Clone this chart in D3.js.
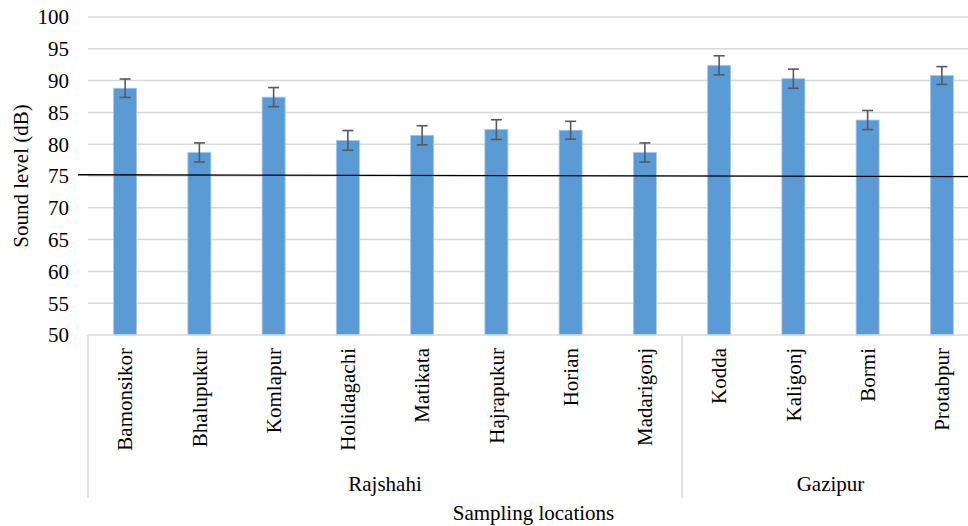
<!DOCTYPE html>
<html>
<head>
<meta charset="utf-8">
<script src="https://cdn.jsdelivr.net/npm/d3@7"></script>
<style>
  body { margin: 0; background: #fff; }
  text { font-family: "Times New Roman", "Liberation Serif", serif; fill: #000; }
</style>
</head>
<body>
<div id="chart"></div>
<script>
// chart data
const locations = ['Bamonsikor', 'Bhalupukur', 'Komlapur', 'Holidagachi', 'Matikata', 'Hajrapukur',
  'Horian', 'Madarigonj', 'Kodda', 'Kaligonj', 'Bormi', 'Protabpur'];
const districts = ['Rajshahi', 'Rajshahi', 'Rajshahi', 'Rajshahi', 'Rajshahi', 'Rajshahi',
  'Rajshahi', 'Rajshahi', 'Gazipur', 'Gazipur', 'Gazipur', 'Gazipur'];
const soundLevel = [88.8, 78.7, 87.4, 80.6, 81.4, 82.3, 82.2, 78.7, 92.4, 90.3, 83.8, 90.8];
const errorRange = [1.45, 1.5, 1.5, 1.55, 1.5, 1.55, 1.4, 1.5, 1.5, 1.5, 1.5, 1.4];
const yTicks = [50, 55, 60, 65, 70, 75, 80, 85, 90, 95, 100];
// hand drawn limit line (start and end level)
const limitLine = [75.2, 74.9];

const width = 968;
const height = 526;
const plotLeft = 88, plotRight = 979, plotTop = 17, plotBottom = 335;
const fontSize = '21px';

const svg = d3.select('#chart')
  .append('svg')
  .attr('width', width)
  .attr('height', height);

const x = d3.scaleBand()
  .domain(locations)
  .range([plotLeft, plotRight])
  .paddingInner(0.69)
  .paddingOuter(0.345);

const y = d3.scaleLinear()
  .domain([50, 100])
  .range([plotBottom, plotTop]);

// gridlines
svg.append('g')
  .selectAll('line')
  .data(yTicks.slice(1))
  .enter().append('line')
  .attr('x1', plotLeft).attr('x2', plotRight)
  .attr('y1', d => y(d)).attr('y2', d => y(d))
  .attr('stroke', '#d9d9d9')
  .attr('stroke-width', 1.5);

// y tick labels
svg.append('g')
  .selectAll('text')
  .data(yTicks)
  .enter().append('text')
  .attr('x', 69)
  .attr('y', d => y(d))
  .attr('dy', '0.35em')
  .attr('text-anchor', 'end')
  .style('font-size', fontSize)
  .text(d => d);

// bars
svg.append('g')
  .selectAll('rect')
  .data(soundLevel)
  .enter().append('rect')
  .attr('x', (d, i) => x(locations[i]))
  .attr('y', d => y(d))
  .attr('width', x.bandwidth())
  .attr('height', d => y(50) - y(d))
  .attr('fill', '#5b9bd5')
  .attr('stroke', '#a9c9ea')
  .attr('stroke-width', 0.8);

// error bars
const err = svg.append('g')
  .attr('stroke', '#595959')
  .attr('stroke-width', 1.6);
soundLevel.forEach((v, i) => {
  const cx = x(locations[i]) + x.bandwidth() / 2;
  err.append('line')
    .attr('x1', cx).attr('x2', cx)
    .attr('y1', y(v - errorRange[i])).attr('y2', y(v + errorRange[i]));
  [v - errorRange[i], v + errorRange[i]].forEach(e => {
    err.append('line')
      .attr('x1', cx - 5.5).attr('x2', cx + 5.5)
      .attr('y1', y(e)).attr('y2', y(e));
  });
});

// category axis
svg.append('line')
  .attr('x1', plotLeft).attr('x2', plotRight)
  .attr('y1', plotBottom).attr('y2', plotBottom)
  .attr('stroke', '#d9d9d9').attr('stroke-width', 1.5);

// group separators
const groups = Array.from(new Set(districts));
const groupEdges = [plotLeft];
groups.forEach(g => {
  const last = districts.lastIndexOf(g);
  groupEdges.push(x(locations[last]) + x.bandwidth() / 2 + x.step() / 2);
});
svg.append('g')
  .selectAll('line')
  .data(groupEdges.slice(0, -1))
  .enter().append('line')
  .attr('x1', d => d).attr('x2', d => d)
  .attr('y1', plotBottom).attr('y2', 498)
  .attr('stroke', '#d9d9d9').attr('stroke-width', 1.5);

// location labels
svg.append('g')
  .selectAll('text')
  .data(locations)
  .enter().append('text')
  .attr('transform', d => `translate(${x(d) + x.bandwidth() / 2}, 348) rotate(-90)`)
  .attr('dy', '0.35em')
  .attr('text-anchor', 'end')
  .style('font-size', fontSize)
  .text(d => d);

// district labels
svg.append('g')
  .selectAll('text')
  .data(groups)
  .enter().append('text')
  .attr('x', (d, i) => (groupEdges[i] + groupEdges[i + 1]) / 2)
  .attr('y', 491)
  .attr('text-anchor', 'middle')
  .style('font-size', fontSize)
  .text(d => d);

// axis titles
svg.append('text')
  .attr('x', (plotLeft + plotRight) / 2)
  .attr('y', 520)
  .attr('text-anchor', 'middle')
  .style('font-size', fontSize)
  .text('Sampling locations');

svg.append('text')
  .attr('transform', `translate(28, ${(plotTop + plotBottom) / 2}) rotate(-90)`)
  .attr('text-anchor', 'middle')
  .style('font-size', fontSize)
  .text('Sound level (dB)');

// limit line
svg.append('line')
  .attr('x1', 78).attr('x2', width)
  .attr('y1', y(limitLine[0])).attr('y2', y(limitLine[1]))
  .attr('stroke', '#000')
  .attr('stroke-width', 1.3);
</script>
</body>
</html>
